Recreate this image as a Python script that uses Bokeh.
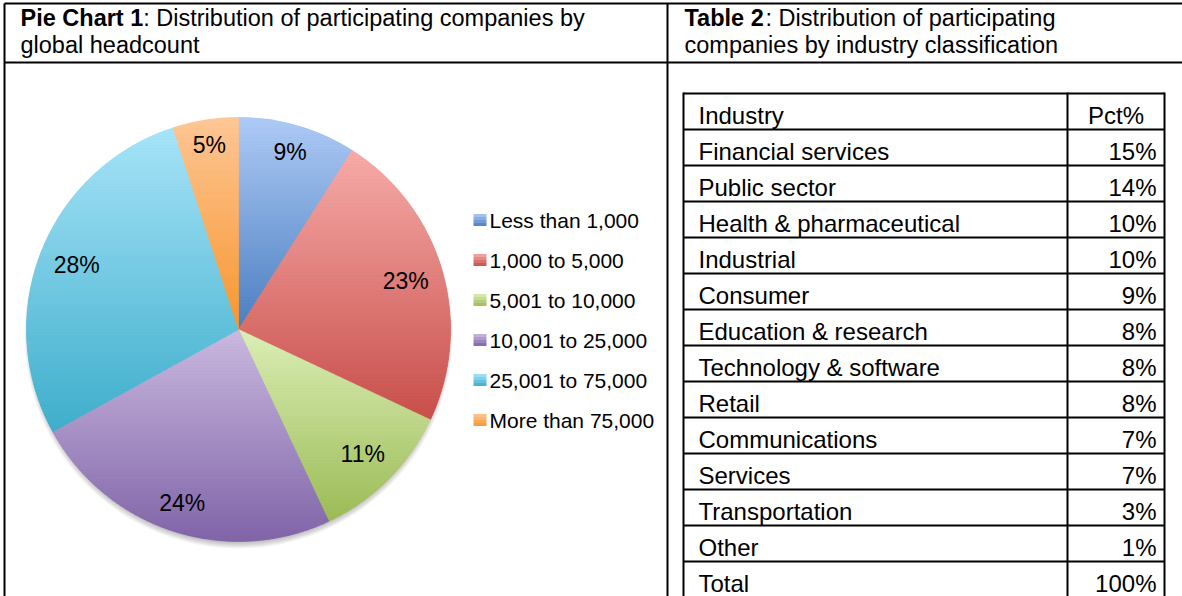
import math
import numpy as np
from bokeh.plotting import figure
from bokeh.models import Range1d, ColumnDataSource
from bokeh.core.properties import value
from bokeh.embed import file_html
from bokeh.resources import INLINE

# ---------------- data ----------------
headcount_labels = ["Less than 1,000", "1,000 to 5,000", "5,001 to 10,000",
                    "10,001 to 25,000", "25,001 to 75,000", "More than 75,000"]
headcount_pct = [9, 23, 11, 24, 28, 5]

industries = ["Financial services", "Public sector", "Health & pharmaceutical",
              "Industrial", "Consumer", "Education & research",
              "Technology & software", "Retail", "Communications", "Services",
              "Transportation", "Other"]
industry_pct = [15, 14, 10, 10, 9, 8, 8, 8, 7, 7, 3, 1]
table_header = ["Industry", "Pct%"]
total_label = "Total"
total_pct = 100

pie_title_bold = "Pie Chart 1"
pie_title_rest = [": Distribution of participating companies by", "global headcount"]
table_title_bold = "Table 2"
table_title_rest = [": Distribution of participating", "companies by industry classification"]

# ---------------- styles ----------------
top_colors = ["#AFCBF6", "#F7ACA9", "#DCEFB7", "#CBBAE0", "#A8E4F9", "#FDC796"]
bottom_colors = ["#4A7EC1", "#C84E4A", "#9BBB55", "#8064A8", "#3EAECB", "#F7962F"]
FONT = value("Liberation Sans")

W, H = 1182, 596
REF_H = 596


def Y(ry):
    return REF_H - ry


def hex2rgb(h):
    h = h.lstrip("#")
    return [int(h[i:i + 2], 16) for i in (0, 2, 4)]


def lerp(c1, c2, t):
    a, b = hex2rgb(c1), hex2rgb(c2)
    return "#%02x%02x%02x" % tuple(int(round(a[i] + (b[i] - a[i]) * t)) for i in range(3))


p = figure(width=W, height=H, output_backend="svg", toolbar_location=None,
           x_range=Range1d(0, W), y_range=Range1d(0, H),
           x_axis_location=None, y_axis_location=None, min_border=0)
p.grid.visible = False
p.outline_line_color = None
p.background_fill_color = "white"
p.border_fill_color = "white"

# ---------------- frame lines ----------------
LW = 2
frame_x0, frame_y0 = 4, 3
p.segment(x0=[frame_x0, frame_x0, 667, frame_x0],
          y0=[Y(frame_y0), Y(frame_y0), Y(frame_y0), Y(62)],
          x1=[1200, frame_x0, 667, 1200],
          y1=[Y(frame_y0), Y(610), Y(610), Y(62)],
          line_color="black", line_width=LW)

# ---------------- titles ----------------
TFS = 23.5


def title(x, bold, rest, bold_em):
    p.text(x=[x], y=[Y(17)], text=[bold], text_font=FONT, text_font_size=value("%gpx" % TFS),
           text_font_style="bold", text_baseline="middle", text_color="black")
    p.text(x=[x + bold_em * TFS, x], y=[Y(17), Y(44)], text=rest, text_font=FONT,
           text_font_size=value("%gpx" % TFS), text_baseline="middle", text_color="black")


title(20, pie_title_bold, pie_title_rest, 5.224)
title(684, table_title_bold, table_title_rest, 3.446)

# ---------------- pie ----------------
CX, CY, R = 238, 329, 212
vals = np.array(headcount_pct, dtype=float)
fr = vals / vals.sum()
cum = np.concatenate([[0.0], np.cumsum(fr)])
a0 = cum[:-1] * 2 * math.pi
a1 = cum[1:] * 2 * math.pi

# soft shadow
p.circle(x=[CX] * 6, y=[Y(CY + 5)] * 6, radius=[209, 210, 211, 212, 213, 214],
         fill_color="black", fill_alpha=0.04, line_color=None)

p.wedge(x=CX, y=Y(CY), radius=R,
        start_angle=list(math.pi / 2 - a0), end_angle=list(math.pi / 2 - a1),
        direction="clock",
        fill_color=[lerp(t, b, 0.5) for t, b in zip(top_colors, bottom_colors)],
        line_color=None)


def clip_half(pts, keep, inter):
    out = []
    for i in range(len(pts)):
        cur, prev = pts[i], pts[i - 1]
        if keep(cur):
            if not keep(prev):
                out.append(inter(prev, cur))
            out.append(cur)
        elif keep(prev):
            out.append(inter(prev, cur))
    return out


def ix(yc):
    def f(a, b):
        t = (yc - a[1]) / (b[1] - a[1])
        return (a[0] + t * (b[0] - a[0]), yc)
    return f


def clip_band(poly, lo, hi):
    pts = clip_half(poly, lambda q: q[1] >= lo, ix(lo))
    if len(pts) < 3:
        return []
    pts = clip_half(pts, lambda q: q[1] <= hi, ix(hi))
    return pts if len(pts) >= 3 else []


xs, ys, cols = [], [], []
for i in range(len(vals)):
    n = max(6, int(math.degrees(a1[i] - a0[i]) * 2))
    angs = np.linspace(a0[i], a1[i], n)
    poly = [(CX, CY)] + [(CX + R * math.sin(a), CY - R * math.cos(a)) for a in angs]
    ymin = min(q[1] for q in poly)
    ymax = max(q[1] for q in poly)
    nb = int(math.ceil((ymax - ymin) / 3.0))
    hb = (ymax - ymin) / nb
    for k in range(nb):
        band = clip_band(poly, ymin + k * hb, ymin + (k + 1) * hb)
        if not band:
            continue
        xs.append([q[0] for q in band])
        ys.append([Y(q[1]) for q in band])
        cols.append(lerp(top_colors[i], bottom_colors[i], (k + 0.5) / nb))

p.patches(xs="xs", ys="ys", source=ColumnDataSource(dict(xs=xs, ys=ys, c=cols)),
          fill_color="c", line_color="c", line_width=0.7)

# pie labels
LFS = 23
lx, ly, lt = [], [], []
for i, v in enumerate(headcount_pct):
    txt = "%d%%" % v
    mid = (a0[i] + a1[i]) / 2
    hw = 0.5 * LFS * (0.556 * (len(txt) - 1) + 0.889)
    ext = hw * abs(math.sin(mid)) + 10 * abs(math.cos(mid))
    r = R - 13 - ext
    lx.append(CX + r * math.sin(mid))
    ly.append(Y(CY - r * math.cos(mid)))
    lt.append(txt)
p.text(x=lx, y=ly, text=lt, text_font=FONT, text_font_size=value("%dpx" % LFS),
       text_align="center", text_baseline="middle", text_color="black")

# legend
leg_y = [219.5 + 40 * i for i in range(len(headcount_labels))]
qx0, qx1, qy0, qy1, qc = [], [], [], [], []
for i, yc in enumerate(leg_y):
    for k in range(4):
        qx0.append(473)
        qx1.append(486)
        qy0.append(Y(yc - 6 + 3 * k))
        qy1.append(Y(yc - 6 + 3 * (k + 1)))
        qc.append(lerp(top_colors[i], bottom_colors[i], (k + 0.5) / 4))
p.quad(left=qx0, right=qx1, top=qy0, bottom=qy1, fill_color=qc, line_color=None)
p.text(x=[489] * len(leg_y), y=[Y(yc) for yc in leg_y], text=headcount_labels,
       text_font=FONT, text_font_size=value("21px"), text_baseline="middle",
       text_color="black")

# ---------------- table ----------------
T_L, T_R, T_C, T_TOP, ROW = 683, 1164, 1067, 93, 36
rows_left = [table_header[0]] + industries + [total_label]
rows_right = ["%d%%" % v for v in industry_pct] + ["%d%%" % total_pct]
nrows = len(rows_left)
hx0 = [T_L] * nrows
hx1 = [T_R] * nrows
hy = [Y(T_TOP + ROW * k) for k in range(nrows)]
p.segment(x0=hx0, y0=hy, x1=hx1, y1=hy, line_color="black", line_width=LW)
p.segment(x0=[T_L, T_C, T_R], y0=[Y(T_TOP - 1)] * 3, x1=[T_L, T_C, T_R], y1=[Y(610)] * 3,
          line_color="black", line_width=LW)
mids = [Y(T_TOP + ROW * k + 21.5) for k in range(nrows)]
p.text(x=[698] * nrows, y=mids, text=rows_left, text_font=FONT,
       text_font_size=value("24px"), text_baseline="middle", text_color="black")
p.text(x=[(T_C + T_R) / 2], y=[mids[0]], text=[table_header[1]], text_font=FONT,
       text_font_size=value("24px"), text_align="center", text_baseline="middle",
       text_color="black")
p.text(x=[1156] * (nrows - 1), y=mids[1:], text=rows_right, text_font=FONT,
       text_font_size=value("24px"), text_align="right", text_baseline="middle",
       text_color="black")

open("out.html", "w").write(file_html(p, INLINE))
